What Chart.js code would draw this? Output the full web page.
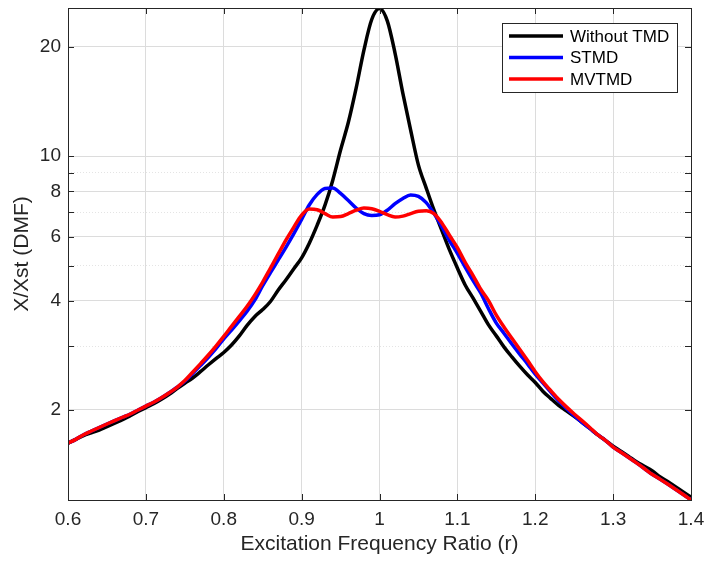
<!DOCTYPE html>
<html>
<head>
<meta charset="utf-8">
<script src="https://cdn.jsdelivr.net/npm/chart.js@4/dist/chart.umd.min.js"></script>
<style>
  body { margin: 0; background: #fff; }
  canvas { display: block; }
</style>
</head>
<body>
<canvas id="dmfChart" width="706" height="562"></canvas>
<script>
// frequency ratio r
const ratio = [
  0.60, 0.61, 0.62, 0.63, 0.64, 0.65, 0.66, 0.67, 0.68, 0.69,
  0.70, 0.71, 0.72, 0.73, 0.74, 0.75, 0.76, 0.77, 0.78, 0.79,
  0.80, 0.81, 0.82, 0.83, 0.84, 0.85, 0.86, 0.87, 0.88, 0.89,
  0.90, 0.91, 0.92, 0.93, 0.94, 0.95, 0.96, 0.97, 0.98, 0.99,
  1.00, 1.01, 1.02, 1.03, 1.04, 1.05, 1.06, 1.07, 1.08, 1.09,
  1.10, 1.11, 1.12, 1.13, 1.14, 1.15, 1.16, 1.17, 1.18, 1.19,
  1.20, 1.21, 1.22, 1.23, 1.24, 1.25, 1.26, 1.27, 1.28, 1.29,
  1.30, 1.31, 1.32, 1.33, 1.34, 1.35, 1.36, 1.37, 1.38, 1.39,
  1.40
];

const withoutTMD = [
  1.62, 1.66, 1.70, 1.73, 1.76, 1.80, 1.84, 1.88, 1.93, 1.98,
  2.03, 2.08, 2.14, 2.21, 2.29, 2.37, 2.45, 2.55, 2.66, 2.77,
  2.88, 3.02, 3.20, 3.42, 3.62, 3.78, 3.98, 4.28, 4.57, 4.90,
  5.25, 5.77, 6.46, 7.33, 8.59, 10.4, 12.4, 15.4, 19.6, 23.8,
  25.5, 23.6, 19.2, 14.9, 11.8, 9.45, 8.17, 7.10, 6.25, 5.51,
  4.92, 4.42, 4.07, 3.74, 3.43, 3.20, 2.98, 2.80, 2.64, 2.50,
  2.38, 2.25, 2.15, 2.06, 1.99, 1.92, 1.85, 1.78, 1.71, 1.65,
  1.59, 1.54, 1.49, 1.44, 1.40, 1.36, 1.31, 1.27, 1.23, 1.19,
  1.15
];

const stmd = [
  1.62, 1.66, 1.71, 1.75, 1.79, 1.83, 1.87, 1.91, 1.95, 2.00,
  2.05, 2.10, 2.16, 2.23, 2.31, 2.40, 2.52, 2.65, 2.79, 2.95,
  3.14, 3.32, 3.52, 3.74, 4.02, 4.40, 4.78, 5.18, 5.62, 6.12,
  6.70, 7.35, 7.85, 8.15, 8.18, 7.90, 7.55, 7.20, 6.95, 6.87,
  6.90, 7.10, 7.40, 7.65, 7.82, 7.75, 7.45, 6.95, 6.40, 5.85,
  5.40, 4.95, 4.55, 4.20, 3.80, 3.47, 3.25, 3.04, 2.85, 2.68,
  2.51, 2.37, 2.24, 2.12, 2.02, 1.93, 1.85, 1.78, 1.71, 1.65,
  1.58, 1.53, 1.48, 1.43, 1.38, 1.33, 1.29, 1.25, 1.21, 1.17,
  1.13
];

const mvtmd = [
  1.62, 1.66, 1.71, 1.75, 1.79, 1.83, 1.87, 1.91, 1.95, 2.00,
  2.05, 2.10, 2.16, 2.23, 2.31, 2.41, 2.54, 2.68, 2.83, 3.00,
  3.19, 3.40, 3.62, 3.86, 4.15, 4.50, 4.92, 5.38, 5.88, 6.38,
  6.88, 7.15, 7.12, 6.95, 6.80, 6.82, 6.95, 7.10, 7.20, 7.17,
  7.05, 6.90, 6.80, 6.84, 6.95, 7.05, 7.08, 6.95, 6.55, 6.05,
  5.60, 5.10, 4.70, 4.30, 4.00, 3.65, 3.38, 3.15, 2.94, 2.74,
  2.55, 2.39, 2.26, 2.14, 2.04, 1.95, 1.87, 1.79, 1.71, 1.65,
  1.58, 1.53, 1.48, 1.43, 1.38, 1.33, 1.29, 1.25, 1.21, 1.17,
  1.13
];

const yTickLabels = [2, 4, 6, 8, 10, 20];
const yMinorTicks = [3, 5, 7, 9];
const xTicks = [0.6, 0.7, 0.8, 0.9, 1.0, 1.1, 1.2, 1.3, 1.4];

const FONT = "'Liberation Sans', Arial, Helvetica, sans-serif";
const TEXT = "#262626";
const GRID = "#dcdcdc";

function toPoints(vals) {
  return ratio.map((r, i) => ({ x: r, y: vals[i] }));
}

// box round the axes, inward tick marks and the legend box
const matlabAxes = {
  id: "matlabAxes",
  afterDraw(chart) {
    const { ctx, chartArea: a, scales } = chart;
    ctx.save();
    ctx.strokeStyle = TEXT;
    ctx.lineWidth = 1;
    ctx.strokeRect(Math.round(a.left) + 0.5, Math.round(a.top) + 0.5,
      Math.round(a.right - a.left), Math.round(a.bottom - a.top));

    const tl = 6;
    ctx.beginPath();
    xTicks.forEach(v => {
      const px = Math.round(scales.x.getPixelForValue(v)) + 0.5;
      ctx.moveTo(px, a.bottom); ctx.lineTo(px, a.bottom - tl);
      ctx.moveTo(px, a.top); ctx.lineTo(px, a.top + tl);
    });
    yTickLabels.concat(yMinorTicks).forEach(v => {
      const py = Math.round(scales.y.getPixelForValue(v)) + 0.5;
      ctx.moveTo(a.left, py); ctx.lineTo(a.left + tl, py);
      ctx.moveTo(a.right, py); ctx.lineTo(a.right - tl, py);
    });
    ctx.stroke();

    // legend
    const lx = 502.5, ly = 23.5, lw = 175, lh = 69;
    ctx.fillStyle = "#fff";
    ctx.fillRect(lx, ly, lw, lh);
    ctx.strokeStyle = TEXT;
    ctx.strokeRect(lx, ly, lw, lh);
    ctx.font = "17px " + FONT;
    ctx.textBaseline = "middle";
    chart.data.datasets.forEach((ds, i) => {
      const cy = 36 + i * 21.5;
      ctx.strokeStyle = ds.borderColor;
      ctx.lineWidth = 3.5;
      ctx.beginPath();
      ctx.moveTo(509, cy); ctx.lineTo(563, cy);
      ctx.stroke();
      ctx.fillStyle = "#000";
      ctx.fillText(ds.label, 570, cy + 1);
    });
    ctx.restore();
  }
};

new Chart(document.getElementById("dmfChart"), {
  type: "line",
  data: {
    datasets: [
      { label: "Without TMD", data: toPoints(withoutTMD), borderColor: "#000000", order: 3 },
      { label: "STMD", data: toPoints(stmd), borderColor: "#0000ff", order: 2 },
      { label: "MVTMD", data: toPoints(mvtmd), borderColor: "#ff0000", order: 1 }
    ]
  },
  options: {
    responsive: false,
    animation: false,
    layout: { padding: { left: 0, right: 15, top: 8, bottom: 0 } },
    elements: {
      line: { borderWidth: 3.5, cubicInterpolationMode: "monotone", fill: false },
      point: { radius: 0 }
    },
    plugins: {
      legend: { display: false },
      tooltip: { enabled: false }
    },
    scales: {
      x: {
        type: "linear",
        min: 0.6,
        max: 1.4,
        afterFit: s => { s.height = 62; s.paddingLeft = 0; s.paddingRight = 0; },
        afterBuildTicks: s => { s.ticks = xTicks.map(v => ({ value: v })); },
        ticks: {
          color: TEXT,
          padding: 8,
          font: { family: FONT, size: 19 },
          callback: v => String(+Number(v).toFixed(2))
        },
        grid: { color: GRID, drawTicks: false },
        border: { display: false },
        title: {
          display: true,
          text: "Excitation Frequency Ratio (r)",
          color: TEXT,
          font: { family: FONT, size: 21 },
          padding: { top: 0, bottom: 5 }
        }
      },
      y: {
        type: "logarithmic",
        min: 1.13,
        max: 25.6,
        afterFit: s => { s.width = 68; s.paddingTop = 0; s.paddingBottom = 0; },
        afterBuildTicks: s => {
          s.ticks = yTickLabels.concat(yMinorTicks).sort((a, b) => a - b).map(v => ({ value: v }));
        },
        ticks: {
          color: TEXT,
          padding: 7,
          autoSkip: false,
          font: { family: FONT, size: 19 },
          callback: v => (yTickLabels.includes(v) ? String(v) : "")
        },
        grid: {
          color: c => (c.tick && yMinorTicks.includes(c.tick.value) ? "#e4e4e4" : GRID),
          drawTicks: false
        },
        border: {
          display: false,
          dash: c => (c.tick && yMinorTicks.includes(c.tick.value) ? [1, 2] : [])
        },
        title: {
          display: true,
          text: "X/Xst (DMF)",
          color: TEXT,
          font: { family: FONT, size: 21 },
          padding: { top: 10, bottom: 0 }
        }
      }
    }
  },
  plugins: [matlabAxes]
});
</script>
</body>
</html>
